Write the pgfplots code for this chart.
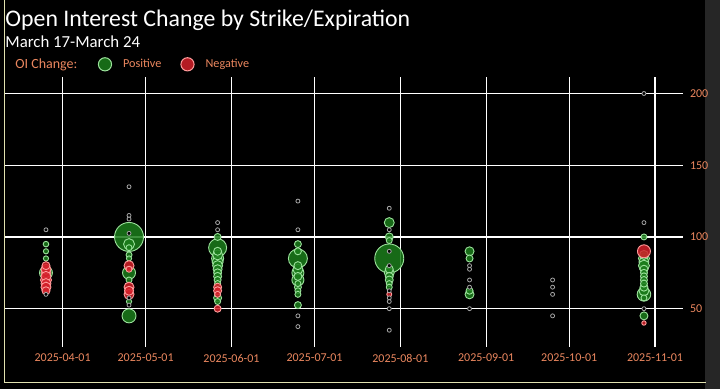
\documentclass[border=0pt]{standalone}
\usepackage{pgfplots}
\usepackage{pgfplotstable}
\pgfplotsset{compat=1.18}
\usepackage{fontspec}
\setmainfont{Carlito}
\definecolor{lorange}{RGB}{235,135,95}
\definecolor{gfill}{RGB}{28,125,28}
\definecolor{gedge}{RGB}{155,225,155}
\definecolor{rfill}{RGB}{212,32,42}
\definecolor{redge}{RGB}{255,155,155}
\definecolor{tedge}{RGB}{165,165,165}
\definecolor{bandgray}{RGB}{38,38,38}
\definecolor{frame}{RGB}{225,225,175}

% x = days after 2025-04-01, y = strike, r = bubble radius (pt)
\pgfplotstableread{
x y r
24 100 7.25
118 85 7.25
85 85 4.75
56 92.5 4.5
24 45 3.5
-6 75 3.25
24 75 3.25
210 60 3.4
85 75 3
85 70 3
56 85 3
24 95 2.75
56 82.5 2.75
118 110 2.5
56 87.5 2.5
56 80 2.5
85 77.5 2.5
118 75 2.5
210 62.5 2.5
210 85 2.75
210 82.5 2.5
210 80 2.75
147 90 2.25
147 60 2.25
56 77.5 2.25
210 87.5 2.25
56 90 2
56 75 2
56 72.5 2
56 57.5 2
85 80 2
85 72.5 2
118 100 2
118 77.5 2
118 72.5 2
118 70 2
210 77.5 2
210 65 2
210 45 2
56 100 1.75
56 70 1.75
85 95 1.75
85 90 1.75
85 65 1.75
85 52.5 1.75
147 85 1.75
147 62.5 1.75
210 75 1.75
210 72.5 1.75
210 70 1.75
210 67.5 1.75
-6 95 1.4
-6 90 1.3
-6 85 1.3
24 92.5 1.5
24 87.5 1.5
24 85 1.3
24 70 1.5
24 55 1.3
56 67.5 1.5
56 55 1.5
85 67.5 1.5
85 62.5 1.5
85 60 1.5
118 97.5 1.5
118 67.5 1.5
118 65 1.5
210 100 1.5
210 57.5 1.5
}\greendata

\pgfplotstableread{
x y r
210 90 3.25
-6 70 2.75
-6 75 2.5
-6 77.5 2.5
-6 72.5 2.5
-6 67.5 2.5
-6 65 2.5
24 80 2.5
24 65 2.5
24 60 2.5
24 62.5 2.25
-6 80 2
-6 62.5 2
56 65 2
56 62.5 2
56 50 1.75
24 77.5 1.5
56 60 1.5
118 60 1.25
210 40 1.1
}\reddata

\pgfplotstableread{
x y
-6 105
-6 60
24 135
24 115
24 112.5
24 102.5
24 57.5
24 52.5
56 110
56 105
85 125
85 105
85 45
85 37.5
118 120
118 105
118 90
118 80
118 62.5
118 57.5
118 55
118 50
118 35
147 80
147 77.5
147 70
147 65
147 50
177 70
177 65
177 60
177 45
210 200
210 110
210 50
}\tinydata

\begin{document}
\begin{tikzpicture}
\path[use as bounding box] (0,0) rectangle (360pt,194.5pt);
\fill[black] (0,0) rectangle (360pt,194.5pt);
\fill[bandgray] (352.5pt,0) rectangle (360pt,194.5pt);
\draw[frame, line width=0.5pt] (2.2pt,194.5pt) -- (2.2pt,3pt) -- (353pt,3pt);

\node[anchor=base west, text=white, font=\fontsize{11.9}{13}\selectfont, inner sep=0pt]
  at (2.5pt,181.2pt) {Open Interest Change by Strike/Expiration};
\node[anchor=base west, text=white, font=\fontsize{8.4}{10}\selectfont, inner sep=0pt]
  at (2.5pt,170.7pt) {March 17-March 24};
\node[anchor=base west, text=lorange, font=\fontsize{7}{8}\selectfont, inner sep=0pt]
  at (7.5pt,160.3pt) {OI Change:};

\begin{axis}[
  at={(2.5pt,21pt)}, anchor=south west,
  scale only axis, width=339pt, height=135pt,
  xmin=-20.8, xmax=224.1, ymin=23.3, ymax=211.5,
  axis line style={draw=none},
  major tick style={draw=none},
  grid=major, grid style={white, line width=0.6pt},
  xtick={0,30,61,91,122,153,183,214},
  xticklabels={2025-04-01,2025-05-01,2025-06-01,2025-07-01,2025-08-01,2025-09-01,2025-10-01,2025-11-01},
  ytick={50,100,150,200},
  yticklabel pos=right,
  ticklabel style={text=lorange, font=\fontsize{6}{7}\selectfont},
  /pgf/number format/assume math mode=true,
  legend style={at={(rel axis cs:0.1364,1.047)}, anchor=west, draw=none, fill=none,
    text=lorange, font=\fontsize{6.1}{7}\selectfont, legend columns=-1, inner sep=0pt,
    nodes={inner sep=0pt},
    /tikz/every odd column/.append style={column sep=5.5pt},
    /tikz/every even column/.append style={column sep=9.5pt}},
]
\addplot[scatter, only marks, mark=*, line width=0.45pt, fill opacity=0.85,
  scatter/use mapped color={draw=gedge, fill=gfill},
  visualization depends on={\thisrow{r}\as\rad},
  scatter/@pre marker code/.append style={/tikz/mark size=\rad},
  legend image code/.code={\draw[draw=gedge, fill=gfill, line width=0.5pt] (3.3pt,0) circle (3.3pt);}]
  table[x=x, y=y] {\greendata};
\addlegendentry{Positive}
\addplot[scatter, only marks, mark=*, line width=0.45pt, fill opacity=0.85,
  scatter/use mapped color={draw=redge, fill=rfill},
  visualization depends on={\thisrow{r}\as\rad},
  scatter/@pre marker code/.append style={/tikz/mark size=\rad},
  legend image code/.code={\draw[draw=redge, fill=rfill, line width=0.5pt] (3.3pt,0) circle (3.3pt);}]
  table[x=x, y=y] {\reddata};
\addlegendentry{Negative}
\addplot[forget plot, only marks, mark=*, mark size=1pt, line width=0.4pt,
  mark options={draw=tedge, fill=black}]
  table[x=x, y=y] {\tinydata};
\end{axis}
\end{tikzpicture}
\end{document}
